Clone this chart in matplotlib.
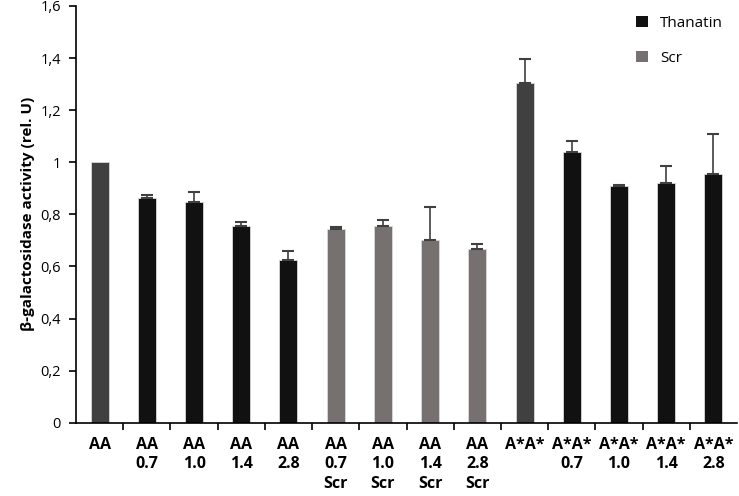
import matplotlib
matplotlib.use('Agg')
import matplotlib.pyplot as plt
import numpy as np
from matplotlib.patches import Patch

# Data
labels = ['AA', 'AA\n0.7', 'AA\n1.0', 'AA\n1.4', 'AA\n2.8',
          'AA\n0.7\nScr', 'AA\n1.0\nScr', 'AA\n1.4\nScr', 'AA\n2.8\nScr',
          'A*A*', 'A*A*\n0.7', 'A*A*\n1.0', 'A*A*\n1.4', 'A*A*\n2.8']
values = [1.0, 0.864, 0.848, 0.757, 0.626,
          0.744, 0.755, 0.703, 0.668,
          1.305, 1.040, 0.910, 0.919, 0.954]
# upper error only; None = no error bar
errors = [None, 0.011, 0.037, 0.012, 0.032,
          0.009, 0.025, 0.125, 0.019,
          0.093, 0.041, 0.003, 0.066, 0.153]
groups = ['ctrl', 'thanatin', 'thanatin', 'thanatin', 'thanatin',
          'scr', 'scr', 'scr', 'scr',
          'ctrl', 'thanatin', 'thanatin', 'thanatin', 'thanatin']
yticks = [0, 0.2, 0.4, 0.6, 0.8, 1.0, 1.2, 1.4, 1.6]
ytick_labels = ['0', '0,2', '0,4', '0,6', '0,8', '1', '1,2', '1,4', '1,6']

COLORS = {'ctrl': '#404040', 'thanatin': '#111111', 'scr': '#767170'}
ERR = '#404040'

plt.rcParams['font.family'] = ['Open Sans', 'DejaVu Sans']

fig = plt.figure(figsize=(7.39, 4.96), dpi=100)
ax = fig.add_axes([76 / 739, 1 - 422.7 / 496, 661 / 739, (422.7 - 6) / 496])

x = np.arange(len(values))
ax.bar(x, values, width=0.38, color=[COLORS[g] for g in groups],
       edgecolor='#d9d9d9', linewidth=0.6, zorder=2)

has_err = [i for i, e in enumerate(errors) if e is not None]
ax.errorbar(x[has_err], [values[i] for i in has_err],
            yerr=[[0] * len(has_err), [errors[i] for i in has_err]], fmt='none',
            ecolor=ERR, elinewidth=1.2, capsize=4.5, capthick=1.5, zorder=3)

ax.set_xlim(-0.5, len(values) - 0.5)
ax.set_ylim(0, 1.6)
ax.set_yticks(yticks)
ax.set_yticklabels(ytick_labels, fontsize=10.5)
ax.set_xticks(x)
ax.set_xticklabels(labels, fontsize=11.5, fontweight='bold', linespacing=1.32)
ax.set_xticks(x[:-1] + 0.5, minor=True)
ax.tick_params(axis='x', which='major', length=0, pad=10)
ax.tick_params(axis='x', which='minor', length=5, width=1.2, direction='out')
ax.tick_params(axis='y', length=5, width=1.2, direction='out', pad=6)

for s in ['top', 'right']:
    ax.spines[s].set_visible(False)
for s in ['left', 'bottom']:
    ax.spines[s].set_linewidth(1.2)
    ax.spines[s].set_color('black')

ax.set_ylabel('β-galactosidase activity (rel. U)', fontsize=11,
              fontweight='bold', labelpad=4)

handles = [Patch(facecolor=COLORS['thanatin'], label='Thanatin'),
           Patch(facecolor=COLORS['scr'], label='Scr')]
ax.legend(handles=handles, loc='upper right', frameon=False, fontsize=11,
          handlelength=0.8, handleheight=0.8, labelspacing=1.3,
          bbox_to_anchor=(1.0, 1.01))

fig.savefig('out.png', dpi=100)
